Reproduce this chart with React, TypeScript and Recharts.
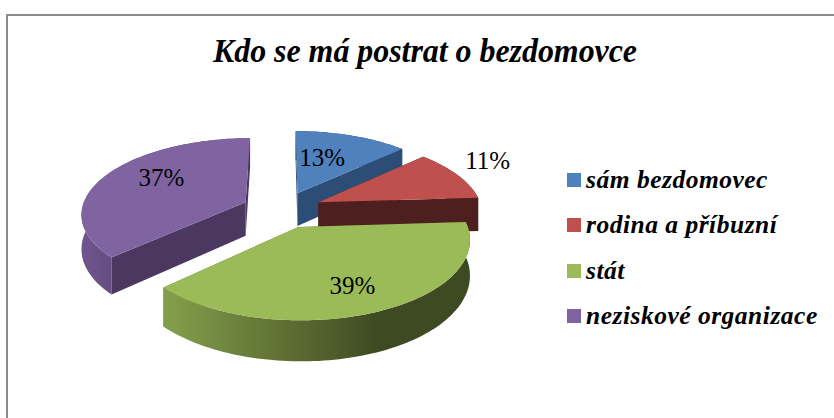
import { Legend, Pie, PieChart } from "recharts";

const categories = ["sám bezdomovec", "rodina a příbuzní", "stát", "neziskové organizace"];
const shares = [13, 11, 39, 37];
const topColors = ["#4f81bd", "#c0504d", "#9bbb59", "#8064a2"];
const sideColors = ["#2c4d75", "#4d1f1e", "url(#greenWall)", "#4a3860"];
const rimColors = ["#2c4d75", "#4d1f1e", "url(#greenWall)", "url(#purpleWall)"];

const rows = categories.map((name, i) => ({ name, value: shares[i], fill: topColors[i] }));

// fake 3D: the disc is tilted and seen in perspective, every slice pulled out along its mid angle
const CX = 282;
const CY = 209.5;
const RADIUS = 164;
const TILT = 0.457;
const PERSPECTIVE = 0.14;
const EXPLODE = 0.245;
const DEPTH = 34;

// how far along the slice the % sits, plus a small hand nudge in pixels
const labelReach = [0.57, 1.28, 0.715, 0.644];
const labelNudge = [
  [-8, -1],
  [-6, -7],
  [-1, 1],
  [7, -6],
];

const RAD = Math.PI / 180;

function project(X: number, F: number, drop = 0) {
  const s = 1 / (1 - PERSPECTIVE * F);
  return {
    x: CX + RADIUS * X * s,
    y: CY + RADIUS * TILT * F * s + (drop ? drop * s : 0),
  };
}

const pointsToPath = (pts: { x: number; y: number }[]) =>
  "M" + pts.map((p) => `${p.x.toFixed(2)},${p.y.toFixed(2)}`).join("L") + "Z";

function Slice3D(props: any) {
  const { startAngle, endAngle, midAngle, fill, name } = props;
  const index = categories.indexOf(name ?? props.payload?.name);
  const mid = (midAngle ?? (startAngle + endAngle) / 2) * RAD;
  const ox = Math.cos(mid) * EXPLODE;
  const oy = -Math.sin(mid) * EXPLODE;

  const from = Math.max(startAngle, endAngle);
  const to = Math.min(startAngle, endAngle);
  const arc: [number, number][] = [];
  for (let a = from; a > to; a -= 1.5) arc.push([Math.cos(a * RAD) + ox, -Math.sin(a * RAD) + oy]);
  arc.push([Math.cos(to * RAD) + ox, -Math.sin(to * RAD) + oy]);

  const apexTop = project(ox, oy);
  const apexBottom = project(ox, oy, DEPTH);
  const rimTop = arc.map(([X, F]) => project(X, F));
  const rimBottom = arc.map(([X, F]) => project(X, F, DEPTH));

  const first = rimTop.length - 1;
  return (
    <g>
      <path d={pointsToPath([...rimTop, ...[...rimBottom].reverse()])} fill={rimColors[index]} />
      <path d={pointsToPath([apexTop, rimTop[0], rimBottom[0], apexBottom])} fill={sideColors[index]} />
      <path d={pointsToPath([apexTop, rimTop[first], rimBottom[first], apexBottom])} fill={sideColors[index]} />
      <path d={pointsToPath([apexTop, ...rimTop])} fill={fill} />
    </g>
  );
}

function PercentLabel(props: any) {
  const { midAngle, value, index } = props;
  const mid = midAngle * RAD;
  const reach = labelReach[index] + EXPLODE;
  const p = project(Math.cos(mid) * reach, -Math.sin(mid) * reach);
  return (
    <text
      x={p.x + labelNudge[index][0]}
      y={p.y + labelNudge[index][1]}
      dy={8}
      textAnchor="middle"
      fontFamily="Liberation Serif"
      fontSize={25}
      fill="#000"
    >
      {value}%
    </text>
  );
}

function LegendList({ payload }: any) {
  return (
    <div>
      {(payload ?? []).map((item: any) => (
        <div
          key={item.value}
          style={{
            display: "flex",
            alignItems: "center",
            height: 45.3,
            fontFamily: "Liberation Serif",
            fontWeight: "bold",
            fontStyle: "italic",
            fontSize: 25.5,
            letterSpacing: 0.5,
            color: "#000",
            whiteSpace: "nowrap",
          }}
        >
          <span style={{ width: 14, height: 14, marginRight: 5, background: item.color }} />
          {item.value}
        </div>
      ))}
    </div>
  );
}

export default function App() {
  return (
    <div style={{ position: "absolute", left: 0, top: 0, width: 834, height: 418, background: "#fff" }}>
      <PieChart width={834} height={418} margin={{ top: 0, right: 0, bottom: 0, left: 0 }}>
        <defs>
          <linearGradient id="greenWall" gradientUnits="userSpaceOnUse" x1={160} y1={0} x2={380} y2={0}>
            <stop offset="0%" stopColor="#85a14c" />
            <stop offset="55%" stopColor="#5f7134" />
            <stop offset="100%" stopColor="#3e4a22" />
          </linearGradient>
          <linearGradient id="purpleWall" gradientUnits="userSpaceOnUse" x1={80} y1={0} x2={130} y2={0}>
            <stop offset="0%" stopColor="#70568f" />
            <stop offset="100%" stopColor="#5d4878" />
          </linearGradient>
        </defs>
        <path d="M7,418V15H834" fill="none" stroke="#8c8c8c" strokeWidth={2} />
        <text
          x={425}
          y={62}
          textAnchor="middle"
          fontFamily="Liberation Serif"
          fontWeight="bold"
          fontStyle="italic"
          fontSize={34}
          textLength={424}
          lengthAdjust="spacingAndGlyphs"
          fill="#000"
        >
          Kdo se má postrat o bezdomovce
        </text>
        <Pie
          data={rows}
          dataKey="value"
          nameKey="name"
          cx={CX}
          cy={CY}
          outerRadius={RADIUS}
          startAngle={90}
          endAngle={-270}
          stroke="none"
          isAnimationActive={false}
          shape={Slice3D}
          label={PercentLabel}
          labelLine={false}
        />
        <Legend
          layout="vertical"
          align="right"
          verticalAlign="top"
          itemSorter={null}
          content={<LegendList />}
          wrapperStyle={{ position: "absolute", left: 567, top: 157.5, width: 267, right: "auto" }}
        />
      </PieChart>
    </div>
  );
}
